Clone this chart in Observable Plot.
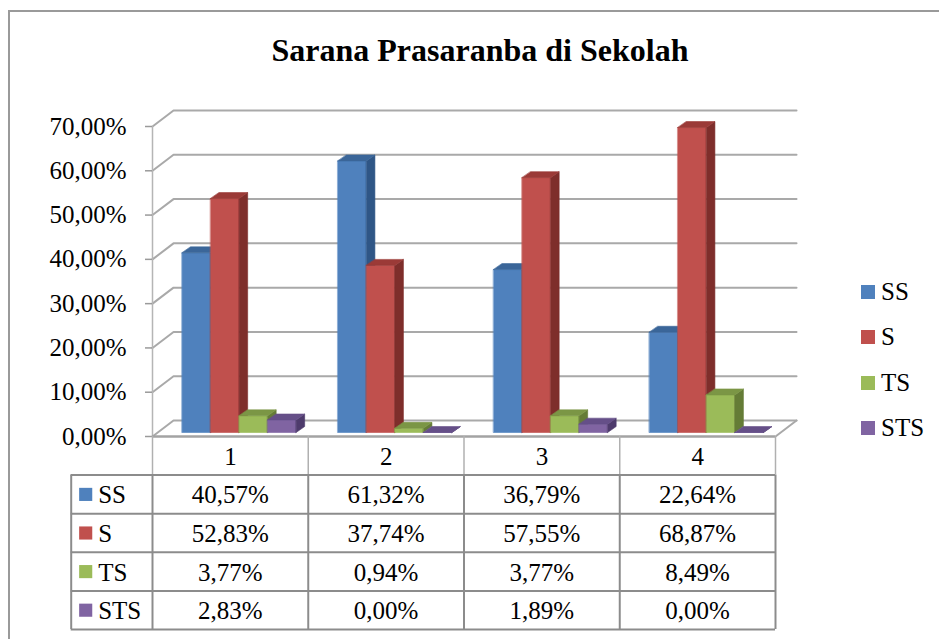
<!DOCTYPE html>
<html>
<head>
<meta charset="utf-8">
<script src="https://cdn.jsdelivr.net/npm/d3@7"></script>
<script src="https://cdn.jsdelivr.net/npm/@observablehq/plot@0.6"></script>
<style>
  html, body { margin: 0; padding: 0; background: #fff; }
  #wrap { position: relative; width: 939px; height: 639px; overflow: hidden; background: #fff;
          font-family: "Liberation Serif", "Times New Roman", serif; }
  #frame { position: absolute; left: 8px; top: 10px; width: 960px; height: 660px;
           border-left: 2px solid #9a9a9a; border-top: 2px solid #9a9a9a; box-sizing: border-box; }
  #title { position: absolute; top: 34px; left: 480px; transform: translateX(-50%); white-space: nowrap;
           font-size: 32px; line-height: 32px; font-weight: bold; color: #000; }
  .layer { position: absolute; left: 0; }
  #legend { position: absolute; left: 861px; top: 269px; }
  .lg { display: flex; align-items: center; height: 45.5px; font-size: 25px; color: #000; }
  .lg span.sw { display: inline-block; width: 14px; height: 14px; margin-right: 6px; }
</style>
</head>
<body>
<div id="wrap">
  <div id="frame"></div>
  <div id="title">Sarana Prasaranba di Sekolah</div>
  <div id="chart" class="layer" style="top:0"></div>
  <div id="table" class="layer" style="top:436px"></div>
  <div id="legend"></div>
</div>
<script>
// ---- data ----
const categories = ["1", "2", "3", "4"];
const series = ["SS", "S", "TS", "STS"];
const ssValues = [40.57, 61.32, 36.79, 22.64];
const sValues = [52.83, 37.74, 57.55, 68.87];
const tsValues = [3.77, 0.94, 3.77, 8.49];
const stsValues = [2.83, 0.00, 1.89, 0.00];
const yTicks = [0, 10, 20, 30, 40, 50, 60, 70];

// ---- styles ----
const frontColors = ["#4F81BD", "#C0504D", "#9BBB59", "#8064A2"];
const sideColors = ["#2f5686", "#7e2e2b", "#657c36", "#4e3b6c"];
const topColors = ["#3b6699", "#9b3a37", "#7b9645", "#654f88"];

const values = [ssValues, sValues, tsValues, stsValues];
const fmt = v => v.toFixed(2).replace(".", ",") + "%";

// 3D geometry (in scale units)
const DX = 0.135, DY = 3.61;          // wall depth
const BDX = 0.055, BDY = 1.35;        // bar depth
const BASE = 0.9;                     // bar base offset
const GOFF = 0.19, BW = 0.183;        // group offset, bar width
const LABELW = 0.522;                 // table label column width

// grid lines (side wall + back wall)
const grid = [];
yTicks.forEach(t => {
  grid.push({id: t, x: 0, y: t});
  grid.push({id: t, x: DX, y: t + DY});
  grid.push({id: t, x: categories.length + DX, y: t + DY});
});
const floorRight = [{x: categories.length, y: 0}, {x: categories.length + DX, y: DY}];

// bar faces as polygons, in draw order
const polys = [];
categories.forEach((c, ci) => {
  series.forEach((s, si) => {
    const v = values[si][ci];
    const x0 = ci + GOFF + si * BW, x1 = x0 + BW;
    const b = BASE, t = BASE + v;
    const key = `${ci}-${si}`;
    [[x0, b], [x1, b], [x1, t], [x0, t]].forEach(([x, y]) => polys.push({id: key + "f", x, y, c: frontColors[si]}));
    [[x1, b], [x1 + BDX, b + BDY], [x1 + BDX, t + BDY], [x1, t]].forEach(([x, y]) => polys.push({id: key + "s", x, y, c: sideColors[si]}));
    [[x0, t], [x1, t], [x1 + BDX, t + BDY], [x0 + BDX, t + BDY]].forEach(([x, y]) => polys.push({id: key + "t", x, y, c: topColors[si]}));
  });
});

const chart = Plot.plot({
  width: 939, height: 639,
  marginLeft: 152, marginRight: 164, marginTop: 126, marginBottom: 203,
  x: {domain: [0, categories.length], axis: null},
  y: {domain: [0, 70], axis: null},
  color: {type: "identity"},
  style: {fontFamily: "'Liberation Serif', 'Times New Roman', serif", background: "transparent", overflow: "visible"},
  marks: [
    Plot.line(grid, {x: "x", y: "y", z: "id", stroke: "#a9a9a9", strokeWidth: 2}),
    Plot.line(floorRight, {x: "x", y: "y", stroke: "#a9a9a9", strokeWidth: 2}),
    Plot.ruleX([0], {y1: 0, y2: 70, stroke: "#b5b5b5", strokeWidth: 1.5}),
    Plot.ruleY(yTicks, {x1: -0.045, x2: 0, stroke: "#9a9a9a", strokeWidth: 1.5}),
    Plot.text(yTicks, {x: 0, y: d => d, dx: -26, textAnchor: "end", text: d => fmt(d), fontSize: 25, fill: "#000"}),
    Plot.line(polys, {x: "x", y: "y", z: "id", fill: "c", stroke: "c", strokeWidth: 0.6, curve: "linear-closed"}),
    Plot.ruleY([0], {x1: 0, x2: categories.length, stroke: "#a3a3a3", strokeWidth: 2.5})
  ]
});
document.getElementById("chart").appendChild(chart);

// ---- data table ----
const cells = [];
series.forEach((s, si) => categories.forEach((c, ci) => cells.push({row: si + 1, col: ci, text: fmt(values[si][ci])})));
const rowsIdx = series.map((s, i) => i + 1);
const bodyH = [1, 2, 3, 4, 5];
const colLines = d3.range(categories.length + 1);

const table = Plot.plot({
  width: 939, height: 203,
  marginLeft: 152, marginRight: 164, marginTop: 0, marginBottom: 10,
  x: {domain: [0, categories.length], axis: null},
  y: {domain: [0, 5], range: [0, 193], axis: null},
  style: {fontFamily: "'Liberation Serif', 'Times New Roman', serif", background: "transparent", overflow: "visible"},
  marks: [
    Plot.ruleX(colLines, {y1: 0, y2: 1, stroke: "#b0b0b0", strokeWidth: 1.5}),
    Plot.ruleY(bodyH, {x1: -LABELW, x2: categories.length, stroke: "#8c8c8c", strokeWidth: 2}),
    Plot.ruleX([-LABELW, ...colLines], {y1: 1, y2: 5, stroke: "#8c8c8c", strokeWidth: 2}),
    Plot.text(categories, {x: (d, i) => i + 0.5, y: 0.5, dy: 1, text: d => d, fontSize: 25, fill: "#000"}),
    Plot.text(cells, {x: d => d.col + 0.5, y: d => d.row + 0.5, dy: 1, text: "text", fontSize: 25, fill: "#000"}),
    Plot.dot(series, {x: -LABELW, y: (d, i) => rowsIdx[i] + 0.5, dx: 14.5, symbol: "square", r: 7.4,
                      fill: (d, i) => frontColors[i], stroke: null}),
    Plot.text(series, {x: -LABELW, y: (d, i) => rowsIdx[i] + 0.5, dx: 27, dy: 1, textAnchor: "start", text: d => d, fontSize: 25, fill: "#000"})
  ],
  color: {type: "identity"}
});
document.getElementById("table").appendChild(table);

// ---- legend ----
const legend = document.getElementById("legend");
series.forEach((s, i) => {
  const row = document.createElement("div");
  row.className = "lg";
  const sw = document.createElement("span");
  sw.className = "sw";
  sw.style.background = frontColors[i];
  row.appendChild(sw);
  row.appendChild(document.createTextNode(s));
  legend.appendChild(row);
});
</script>
</body>
</html>
